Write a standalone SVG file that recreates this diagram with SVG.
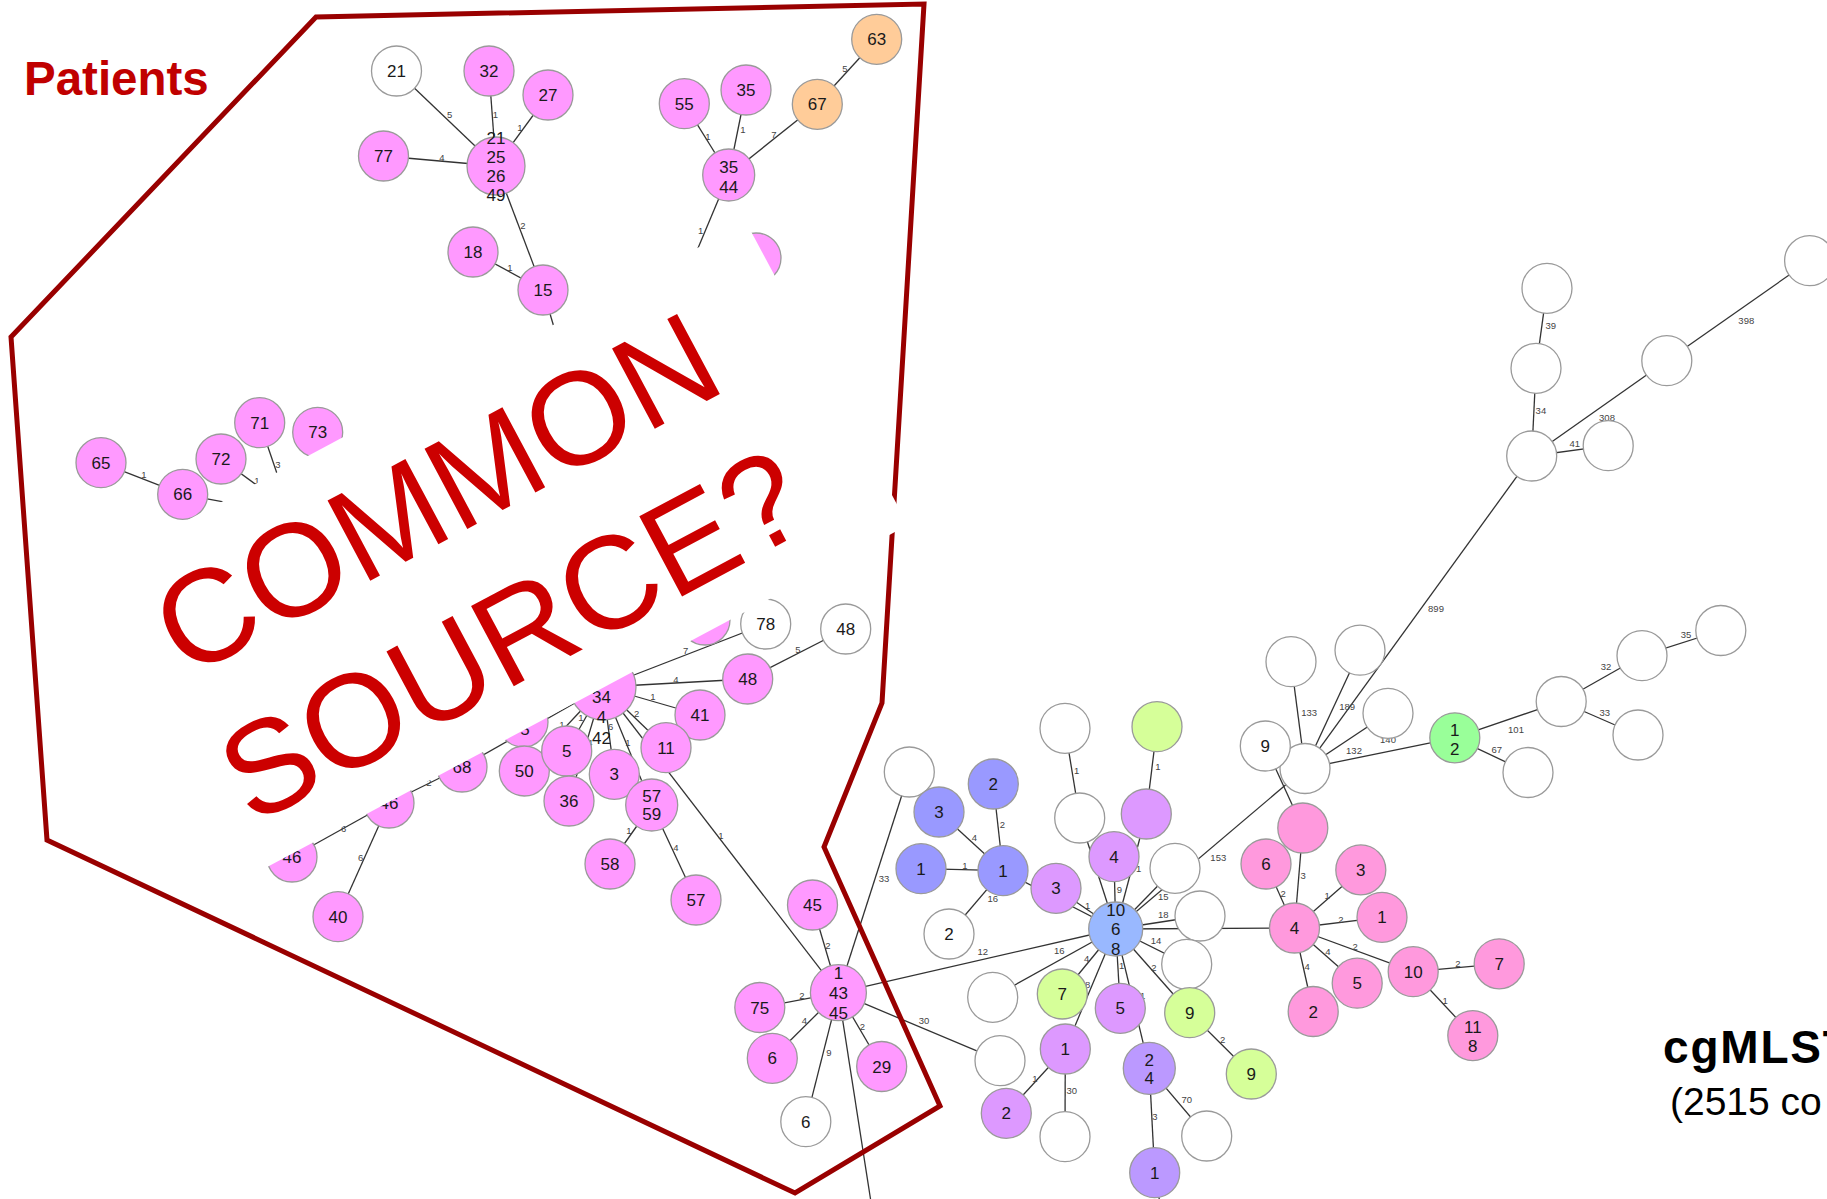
<svg xmlns="http://www.w3.org/2000/svg" width="1827" height="1199" viewBox="0 0 1827 1199">
<style>
.e line{stroke:#333;stroke-width:1.3}
.lb text{font-family:"Liberation Sans",Arial,sans-serif;font-size:9.5px;fill:#444;text-anchor:middle}
.n circle{stroke:#9a9a9a;stroke-width:1.3}
.n text{font-family:"Liberation Sans",Arial,sans-serif;font-size:17px;fill:#1a1a1a;text-anchor:middle}
.pk{fill:#ff99ff}.or{fill:#ffcc99}.bl{fill:#9999ff}.hb{fill:#99b8ff}.lp{fill:#dd99ff}.mp{fill:#bb99ff}.yg{fill:#d6ff99}.gr{fill:#99ff99}.rp{fill:#ff99dd}.wh{fill:#ffffff}
.big{font-family:"Liberation Sans",Arial,sans-serif;font-size:132px;fill:#cc0000}
</style>
<rect width="1827" height="1199" fill="#fff"/>
<g id="connectors" class="e">
<line x1="396.5" y1="71" x2="496" y2="166"/><line x1="489" y1="71" x2="496" y2="166"/><line x1="548" y1="95" x2="496" y2="166"/><line x1="383.5" y1="156" x2="496" y2="166"/><line x1="496" y1="166" x2="543" y2="290"/><line x1="473" y1="252" x2="543" y2="290"/><line x1="543" y1="290" x2="566" y2="368"/>
<line x1="876.7" y1="39.3" x2="817.3" y2="104.3"/><line x1="817.3" y1="104.3" x2="728.7" y2="175"/><line x1="684.3" y1="103.7" x2="728.7" y2="175"/><line x1="746" y1="90" x2="728.7" y2="175"/><line x1="728.7" y1="175" x2="688" y2="272"/>
<line x1="101" y1="462.7" x2="182.7" y2="494.3"/><line x1="182.7" y1="494.3" x2="262" y2="509"/><line x1="221" y1="459" x2="277" y2="500"/><line x1="259.7" y1="422.7" x2="285" y2="497"/>
<line x1="603" y1="687" x2="765.7" y2="624"/><line x1="747.7" y1="679" x2="845.7" y2="629"/><line x1="603" y1="687" x2="747.7" y2="679"/><line x1="603" y1="687" x2="700" y2="715"/><line x1="603" y1="687" x2="666" y2="747.7"/><line x1="603" y1="687" x2="566.7" y2="751"/><line x1="603" y1="687" x2="524.3" y2="771"/><line x1="603" y1="687" x2="569" y2="801"/><line x1="603" y1="687" x2="614.3" y2="774.3"/><line x1="603" y1="687" x2="651.7" y2="805"/><line x1="651.7" y1="805" x2="610" y2="864"/><line x1="651.7" y1="805" x2="696" y2="900"/><line x1="603" y1="687" x2="838.4" y2="992.7"/><line x1="603" y1="687" x2="462" y2="767"/><line x1="462" y1="767" x2="389" y2="803"/><line x1="389" y1="803" x2="292" y2="857"/><line x1="389" y1="803" x2="338" y2="916.7"/>
<line x1="838.4" y1="992.7" x2="812.5" y2="905"/><line x1="838.4" y1="992.7" x2="759.8" y2="1007.5"/><line x1="838.4" y1="992.7" x2="772.3" y2="1058.3"/><line x1="838.4" y1="992.7" x2="881.7" y2="1066.5"/><line x1="838.4" y1="992.7" x2="805.8" y2="1121.7"/><line x1="838.4" y1="992.7" x2="873" y2="1215"/><line x1="838.4" y1="992.7" x2="909.3" y2="772"/><line x1="838.4" y1="992.7" x2="1115.7" y2="929"/><line x1="838.4" y1="992.7" x2="1000" y2="1060.7"/>
<line x1="939" y1="812" x2="1003" y2="870.7"/><line x1="993.3" y1="784" x2="1003" y2="870.7"/><line x1="921" y1="868.7" x2="1003" y2="870.7"/><line x1="949" y1="934" x2="1003" y2="870.7"/><line x1="1003" y1="870.7" x2="1115.7" y2="929"/><line x1="1056" y1="888.3" x2="1115.7" y2="929"/><line x1="1065" y1="728.3" x2="1079.7" y2="818"/><line x1="1079.7" y1="818" x2="1115.7" y2="929"/><line x1="1157" y1="726.7" x2="1146.3" y2="814"/><line x1="1146.3" y1="814" x2="1115.7" y2="929"/><line x1="1114" y1="856.7" x2="1115.7" y2="929"/><line x1="1175" y1="868.3" x2="1115.7" y2="929"/><line x1="1115.7" y1="929" x2="1305" y2="768.5"/><line x1="1200" y1="916" x2="1115.7" y2="929"/><line x1="1115.7" y1="929" x2="1294.5" y2="928"/><line x1="1186.7" y1="964.3" x2="1115.7" y2="929"/><line x1="1189.7" y1="1012.7" x2="1115.7" y2="929"/><line x1="1189.7" y1="1012.7" x2="1251.3" y2="1074"/><line x1="1120.3" y1="1008.3" x2="1115.7" y2="929"/><line x1="1149.3" y1="1068.3" x2="1115.7" y2="929"/><line x1="1062.3" y1="994" x2="1115.7" y2="929"/><line x1="1065.3" y1="1049" x2="1115.7" y2="929"/><line x1="992.7" y1="997.3" x2="1115.7" y2="929"/><line x1="1065.3" y1="1049" x2="1006.3" y2="1113.3"/><line x1="1065.3" y1="1049" x2="1065" y2="1136.7"/><line x1="1149.3" y1="1068.3" x2="1154.7" y2="1172.7"/><line x1="1149.3" y1="1068.3" x2="1206.7" y2="1136"/><line x1="1154.7" y1="1172.7" x2="1162" y2="1215"/>
<line x1="1305" y1="768.5" x2="1291" y2="661.7"/><line x1="1305" y1="768.5" x2="1360" y2="650.2"/><line x1="1305" y1="768.5" x2="1388" y2="713.3"/><line x1="1305" y1="768.5" x2="1454.8" y2="737.8"/><line x1="1305" y1="768.5" x2="1531.7" y2="456"/><line x1="1265.3" y1="746" x2="1302.8" y2="828"/><line x1="1454.8" y1="737.8" x2="1561.2" y2="701.5"/><line x1="1454.8" y1="737.8" x2="1528" y2="772.5"/><line x1="1561.2" y1="701.5" x2="1642" y2="655.7"/><line x1="1642" y1="655.7" x2="1720.8" y2="630.5"/><line x1="1561.2" y1="701.5" x2="1638" y2="735"/><line x1="1531.7" y1="456" x2="1536" y2="368.3"/><line x1="1536" y1="368.3" x2="1547" y2="288.3"/><line x1="1531.7" y1="456" x2="1608.2" y2="445.7"/><line x1="1531.7" y1="456" x2="1666.8" y2="360.7"/><line x1="1666.8" y1="360.7" x2="1809.6" y2="260.7"/>
<line x1="1294.5" y1="928" x2="1302.8" y2="828"/><line x1="1294.5" y1="928" x2="1266" y2="864"/><line x1="1294.5" y1="928" x2="1360.8" y2="869.9"/><line x1="1294.5" y1="928" x2="1382" y2="917.3"/><line x1="1294.5" y1="928" x2="1413.2" y2="971.7"/><line x1="1294.5" y1="928" x2="1357.2" y2="983.2"/><line x1="1294.5" y1="928" x2="1313.2" y2="1011.5"/><line x1="1413.2" y1="971.7" x2="1499.2" y2="963.8"/><line x1="1413.2" y1="971.7" x2="1472.8" y2="1035.6"/>
</g>
<g id="edge-labels" class="lb">
<text x="449.6" y="117.5">5</text><text x="495.5" y="117.5">1</text><text x="520" y="130.5">1</text><text x="442" y="160.5">4</text><text x="523" y="228.5">2</text><text x="510" y="270.5">1</text>
<text x="845" y="71.5">5</text><text x="708" y="139.5">1</text><text x="743" y="132.5">1</text><text x="774" y="137.5">7</text><text x="700.7" y="233.5">1</text>
<text x="144" y="477.5">1</text><text x="257" y="483.5">1</text><text x="278" y="467.5">3</text>
<text x="685.7" y="654">7</text><text x="798" y="652.5">5</text><text x="676" y="682.5">4</text><text x="653" y="700">1</text><text x="636.7" y="716.5">2</text><text x="562" y="727.5">1</text><text x="581" y="720.5">1</text><text x="590" y="745.5">4</text><text x="610.7" y="730">6</text><text x="628" y="745.5">1</text><text x="629" y="834">1</text><text x="676" y="850.5">4</text><text x="721" y="838.5">1</text><text x="429" y="786">2</text><text x="343.7" y="831.5">6</text><text x="360.7" y="860.8">6</text>
<text x="828" y="948.5">2</text><text x="802" y="998.5">2</text><text x="804.5" y="1024">4</text><text x="862.5" y="1029.5">2</text><text x="829" y="1056">9</text><text x="884" y="881.5">33</text><text x="982.7" y="955">12</text><text x="924" y="1023.5">30</text>
<text x="974.3" y="841">4</text><text x="1002.3" y="827.5">2</text><text x="965" y="868.5">1</text><text x="992.7" y="901.8">16</text><text x="1087.7" y="908.5">1</text><text x="1076.7" y="773.5">1</text><text x="1158" y="770">1</text><text x="1138.7" y="871.8">1</text><text x="1119.3" y="892.5">9</text><text x="1163.3" y="899.5">15</text><text x="1218.3" y="860.8">153</text><text x="1163.3" y="917.8">18</text><text x="1156" y="943.5">14</text><text x="1154" y="970.8">2</text><text x="1222.7" y="1043">2</text><text x="1121.7" y="968.5">1</text><text x="1142.7" y="998.5">1</text><text x="1086.7" y="961.8">4</text><text x="1087.7" y="987.8">8</text><text x="1059.3" y="954">16</text><text x="1035" y="1081.8">1</text><text x="1071.7" y="1093.5">30</text><text x="1155" y="1120">3</text><text x="1186.7" y="1102.8">70</text>
<text x="1309.2" y="715.6">133</text><text x="1347.2" y="709.7">189</text><text x="1388" y="742.5">140</text><text x="1354" y="753.9">132</text><text x="1436" y="611.9">899</text><text x="1516" y="733.4">101</text><text x="1496.8" y="753.1">67</text><text x="1606" y="670.3">32</text><text x="1686" y="637.5">35</text><text x="1604.8" y="715.6">33</text><text x="1540.9" y="413.5">34</text><text x="1550.8" y="328.5">39</text><text x="1574.7" y="446.8">41</text><text x="1607" y="421.2">308</text><text x="1746.3" y="323.5">398</text>
<text x="1303.2" y="878.5">3</text><text x="1283.2" y="897.1">2</text><text x="1327.2" y="899.1">1</text><text x="1340.8" y="922.8">2</text><text x="1355.2" y="950.4">2</text><text x="1328" y="955.1">4</text><text x="1307.2" y="970.1">4</text><text x="1458" y="966.9">2</text><text x="1445.2" y="1003.6">1</text>
</g>
<g class="n">
<g id="a21w"><circle cx="396.5" cy="71" r="25" class="wh"/><text x="396.5" y="77">21</text></g>
<g id="a32"><circle cx="489" cy="71" r="25" class="pk"/><text x="489" y="77">32</text></g>
<g id="a27"><circle cx="548" cy="95" r="25" class="pk"/><text x="548" y="101">27</text></g>
<g id="a77"><circle cx="383.5" cy="156" r="25" class="pk"/><text x="383.5" y="162">77</text></g>
<g id="ahub"><circle cx="496" cy="166" r="29" class="pk"/><text x="496" y="143.5">21</text><text x="496" y="162.8">25</text><text x="496" y="182.1">26</text><text x="496" y="201.4">49</text></g>
<g id="a18"><circle cx="473" cy="252" r="25" class="pk"/><text x="473" y="258">18</text></g>
<g id="a15"><circle cx="543" cy="290" r="25" class="pk"/><text x="543" y="296">15</text></g>
<g id="b63"><circle cx="876.7" cy="39.3" r="25" class="or"/><text x="876.7" y="45.3">63</text></g>
<g id="b67"><circle cx="817.3" cy="104.3" r="25" class="or"/><text x="817.3" y="110.3">67</text></g>
<g id="b55"><circle cx="684.3" cy="103.7" r="25" class="pk"/><text x="684.3" y="109.7">55</text></g>
<g id="b35"><circle cx="746" cy="90" r="25" class="pk"/><text x="746" y="96">35</text></g>
<g id="bhub"><circle cx="728.7" cy="175" r="26" class="pk"/><text x="728.7" y="172.7">35</text><text x="728.7" y="192.7">44</text></g>
<g id="bpart"><circle cx="756" cy="258" r="25" class="pk"/></g>
<g id="c65"><circle cx="101" cy="462.7" r="25" class="pk"/><text x="101" y="468.7">65</text></g>
<g id="c72"><circle cx="221" cy="459" r="25" class="pk"/><text x="221" y="465">72</text></g>
<g id="c66"><circle cx="182.7" cy="494.3" r="25" class="pk"/><text x="182.7" y="500.3">66</text></g>
<g id="c71"><circle cx="259.7" cy="422.7" r="25" class="pk"/><text x="259.7" y="428.7">71</text></g>
<g id="c73"><circle cx="317.7" cy="432.3" r="25" class="pk"/><text x="317.7" y="438.3">73</text></g>
<g id="dhub"><circle cx="603" cy="687" r="33" class="pk"/></g>
<g id="dpart"><circle cx="523" cy="722" r="25" class="pk"/><text x="525" y="735">5</text></g>
<g id="dpart2"><circle cx="705" cy="620" r="25" class="pk"/></g>
<g id="d68"><circle cx="462" cy="767" r="25" class="pk"/><text x="462" y="773">68</text></g>
<g id="d46a"><circle cx="389" cy="803" r="25" class="pk"/><text x="389" y="809">46</text></g>
<g id="d46b"><circle cx="292" cy="857" r="25" class="pk"/><text x="292" y="863">46</text></g>
<g id="d40"><circle cx="338" cy="916.7" r="25" class="pk"/><text x="338" y="922.7">40</text></g>
<g id="d78w"><circle cx="765.7" cy="624" r="25" class="wh"/><text x="765.7" y="630">78</text></g>
<g id="d48w"><circle cx="845.7" cy="629" r="25" class="wh"/><text x="845.7" y="635">48</text></g>
<g id="d48"><circle cx="747.7" cy="679" r="25" class="pk"/><text x="747.7" y="685">48</text></g>
<g id="d41"><circle cx="700" cy="715" r="25" class="pk"/><text x="700" y="721">41</text></g>
<g id="d11"><circle cx="666" cy="747.7" r="25" class="pk"/><text x="666" y="753.7">11</text></g>
<g id="d50"><circle cx="524.3" cy="771" r="25" class="pk"/><text x="524.3" y="777">50</text></g>
<g id="d5"><circle cx="566.7" cy="751" r="25" class="pk"/><text x="566.7" y="757">5</text></g>
<g id="d36"><circle cx="569" cy="801" r="25" class="pk"/><text x="569" y="807">36</text></g>
<g id="d3"><circle cx="614.3" cy="774.3" r="25" class="pk"/><text x="614.3" y="780.3">3</text></g>
<g id="d5759"><circle cx="651.7" cy="805" r="26" class="pk"/><text x="651.7" y="801.7">57</text><text x="651.7" y="820.3">59</text></g>
<g id="d58"><circle cx="610" cy="864" r="25" class="pk"/><text x="610" y="870">58</text></g>
<g id="d57"><circle cx="696" cy="900" r="25" class="pk"/><text x="696" y="906">57</text></g>
<g id="dhubtext"><text x="601.5" y="703">34</text><text x="601.5" y="723">4</text><text x="601.5" y="744">42</text></g>
<g id="ehub"><circle cx="838.4" cy="992.7" r="28" class="pk"/><text x="838.4" y="979.3">1</text><text x="838.4" y="998.7">43</text><text x="838.4" y="1018.7">45</text></g>
<g id="e45"><circle cx="812.5" cy="905" r="25" class="pk"/><text x="812.5" y="911">45</text></g>
<g id="e75"><circle cx="759.8" cy="1007.5" r="25" class="pk"/><text x="759.8" y="1013.5">75</text></g>
<g id="e6"><circle cx="772.3" cy="1058.3" r="25" class="pk"/><text x="772.3" y="1064.3">6</text></g>
<g id="e29"><circle cx="881.7" cy="1066.5" r="25" class="pk"/><text x="881.7" y="1072.5">29</text></g>
<g id="e6w"><circle cx="805.8" cy="1121.7" r="25" class="wh"/><text x="805.8" y="1127.7">6</text></g>
<g id="fw33"><circle cx="909.3" cy="772" r="25" class="wh"/></g>
<g id="f3b"><circle cx="939" cy="812" r="25" class="bl"/><text x="939" y="818">3</text></g>
<g id="f2b"><circle cx="993.3" cy="784" r="25" class="bl"/><text x="993.3" y="790">2</text></g>
<g id="f1b"><circle cx="921" cy="868.7" r="25" class="bl"/><text x="921" y="874.7">1</text></g>
<g id="f1bh"><circle cx="1003" cy="870.7" r="25" class="bl"/><text x="1003" y="876.7">1</text></g>
<g id="f2w"><circle cx="949" cy="934" r="25" class="wh"/><text x="949" y="940">2</text></g>
<g id="f3p"><circle cx="1056" cy="888.3" r="25" class="lp"/><text x="1056" y="894.3">3</text></g>
<g id="fw30"><circle cx="1000" cy="1060.7" r="25" class="wh"/></g>
<g id="gwtop"><circle cx="1065" cy="728.3" r="25" class="wh"/></g>
<g id="gwmid"><circle cx="1079.7" cy="818" r="25" class="wh"/></g>
<g id="ggytop"><circle cx="1157" cy="726.7" r="25" class="yg"/></g>
<g id="gpnl"><circle cx="1146.3" cy="814" r="25" class="lp"/></g>
<g id="g4p"><circle cx="1114" cy="856.7" r="25" class="lp"/><text x="1114" y="862.7">4</text></g>
<g id="gw153"><circle cx="1175" cy="868.3" r="25" class="wh"/></g>
<g id="gw18"><circle cx="1200" cy="916" r="25" class="wh"/></g>
<g id="gw14"><circle cx="1186.7" cy="964.3" r="25" class="wh"/></g>
<g id="gw16"><circle cx="992.7" cy="997.3" r="25" class="wh"/></g>
<g id="g7"><circle cx="1062.3" cy="994" r="25" class="yg"/><text x="1062.3" y="1000">7</text></g>
<g id="g5p"><circle cx="1120.3" cy="1008.3" r="25" class="lp"/><text x="1120.3" y="1014.3">5</text></g>
<g id="g9"><circle cx="1189.7" cy="1012.7" r="25" class="yg"/><text x="1189.7" y="1018.7">9</text></g>
<g id="g9b"><circle cx="1251.3" cy="1074" r="25" class="yg"/><text x="1251.3" y="1080">9</text></g>
<g id="g1p"><circle cx="1065.3" cy="1049" r="25" class="lp"/><text x="1065.3" y="1055">1</text></g>
<g id="g2p"><circle cx="1006.3" cy="1113.3" r="25" class="lp"/><text x="1006.3" y="1119.3">2</text></g>
<g id="gw30b"><circle cx="1065" cy="1136.7" r="25" class="wh"/></g>
<g id="g24"><circle cx="1149.3" cy="1068.3" r="26" class="mp"/><text x="1149.3" y="1066">2</text><text x="1149.3" y="1084.3">4</text></g>
<g id="gw70"><circle cx="1206.7" cy="1136" r="25" class="wh"/></g>
<g id="g1m"><circle cx="1154.7" cy="1172.7" r="25" class="mp"/><text x="1154.7" y="1178.7">1</text></g>
<g id="ghub"><circle cx="1115.7" cy="929" r="27" class="hb"/><text x="1115.7" y="916">10</text><text x="1115.7" y="935">6</text><text x="1115.7" y="954.7">8</text></g>
<g id="hwhub"><circle cx="1305" cy="768.5" r="25" class="wh"/></g>
<g id="h9w"><circle cx="1265.3" cy="746" r="25" class="wh"/><text x="1265.3" y="752">9</text></g>
<g id="hw133"><circle cx="1291" cy="661.7" r="25" class="wh"/></g>
<g id="hw189"><circle cx="1360" cy="650.2" r="25" class="wh"/></g>
<g id="hw140"><circle cx="1388" cy="713.3" r="25" class="wh"/></g>
<g id="hgreen"><circle cx="1454.8" cy="737.8" r="25" class="gr"/><text x="1454.8" y="735.9">1</text><text x="1454.8" y="754.8">2</text></g>
<g id="hw67"><circle cx="1528" cy="772.5" r="25" class="wh"/></g>
<g id="hw101"><circle cx="1561.2" cy="701.5" r="25" class="wh"/></g>
<g id="hw32"><circle cx="1642" cy="655.7" r="25" class="wh"/></g>
<g id="hw35"><circle cx="1720.8" cy="630.5" r="25" class="wh"/></g>
<g id="hw33"><circle cx="1638" cy="735" r="25" class="wh"/></g>
<g id="huhub"><circle cx="1531.7" cy="456" r="25" class="wh"/></g>
<g id="hw41"><circle cx="1608.2" cy="445.7" r="25" class="wh"/></g>
<g id="hw34"><circle cx="1536" cy="368.3" r="25" class="wh"/></g>
<g id="hw39"><circle cx="1547" cy="288.3" r="25" class="wh"/></g>
<g id="hw308"><circle cx="1666.8" cy="360.7" r="25" class="wh"/></g>
<g id="hwtr"><circle cx="1809.6" cy="260.7" r="25" class="wh"/></g>
<g id="hpnl"><circle cx="1302.8" cy="828" r="25" class="rp"/></g>
<g id="h6"><circle cx="1266" cy="864" r="25" class="rp"/><text x="1266" y="870">6</text></g>
<g id="h3"><circle cx="1360.8" cy="869.9" r="25" class="rp"/><text x="1360.8" y="875.9">3</text></g>
<g id="h1"><circle cx="1382" cy="917.3" r="25" class="rp"/><text x="1382" y="923.3">1</text></g>
<g id="h4"><circle cx="1294.5" cy="928" r="25" class="rp"/><text x="1294.5" y="934">4</text></g>
<g id="h5"><circle cx="1357.2" cy="983.2" r="25" class="rp"/><text x="1357.2" y="989.2">5</text></g>
<g id="h2"><circle cx="1313.2" cy="1011.5" r="25" class="rp"/><text x="1313.2" y="1017.5">2</text></g>
<g id="h10"><circle cx="1413.2" cy="971.7" r="25" class="rp"/><text x="1413.2" y="977.7">10</text></g>
<g id="h7"><circle cx="1499.2" cy="963.8" r="25" class="rp"/><text x="1499.2" y="969.8">7</text></g>
<g id="h118"><circle cx="1472.8" cy="1035.6" r="25" class="rp"/><text x="1472.8" y="1033">11</text><text x="1472.8" y="1051.5">8</text></g>
</g>
<path id="region" d="M11,337 L316,17 L924,4 L882,703 L824,847 L940,1106 L795,1193 L47,840 Z" fill="none" stroke="#990000" stroke-width="5" stroke-linejoin="miter"/>
<polygon id="band" points="36,601 746,222 908,525 198,904" fill="#fff"/>
<g id="callout">
<text class="big" transform="translate(186,679) rotate(-28.1)">COMMON</text>
<text class="big" transform="translate(252,826) rotate(-28.1)">SOURCE?</text>
</g>
<text id="patients" x="24" y="95" font-family="Liberation Sans, Arial, sans-serif" font-size="47.5" font-weight="bold" fill="#c00000">Patients</text>
<text id="title" x="1663" y="1063" font-family="Liberation Sans, Arial, sans-serif" font-size="46" font-weight="bold" letter-spacing="1.8" fill="#000">cgMLST</text>
<text id="subtitle" x="1670" y="1115" font-family="Liberation Sans, Arial, sans-serif" font-size="39" fill="#000">(2515 co</text>
</svg>
